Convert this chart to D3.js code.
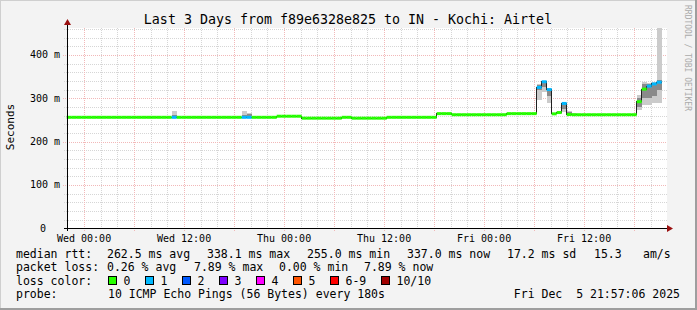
<!DOCTYPE html>
<html lang="en">
<head>
  <meta charset="UTF-8">
  <title>Smokeping</title>
  <style>
    body { margin: 0; background: #f3f3f3; }
    text { font-family: 'DejaVu Sans Mono', monospace; fill: #000; }
  </style>
</head>
<body>

  <svg id="svg" width="697" height="310"></svg>

  <script src="https://d3js.org/d3.v7.min.js"></script>
  <script>
    // time window (36 minute consolidation steps)
    const startTime = new Date(2025, 11, 2, 21, 57, 6)
    const endTime = new Date(2025, 11, 5, 21, 57, 6)
    const firstBin = new Date(2025, 11, 2, 21, 55, 0)
    const stepMinutes = 36

    // median rtt per step, in ms
    const medians = [
      256, 256, 256, 256, 256, 256, 256, 256, 256, 256,
      256, 256, 256, 256, 256, 256, 256, 256, 256, 256,
      256, 256, 256, 256, 256, 256, 256, 256, 256, 256,
      256, 256, 256, 256, 256, 256, 256, 256, 256, 256,
      256, 256, 258.5, 258.5, 258.5, 258.5, 258.5, 254, 254, 254,
      254, 254, 254, 254, 254, 256, 256, 254, 254, 254,
      254, 254, 254, 254, 256, 256, 256, 256, 256, 256,
      256, 256, 256, 256, 264.5, 264.5, 264.5, 262, 262, 262,
      262, 262, 262, 262, 262, 262, 262, 262, 264.5, 264.5,
      264.5, 264.5, 264.5, 264.5, 325, 338, 320, 264, 267, 288,
      262.5, 262, 262, 262, 262, 262, 262, 262, 262, 262,
      262, 262, 262, 262, 292, 321, 328, 333, 337
    ]

    // steps with lost pings: [step, pings lost of 10]
    const lossSteps = [[21, 1], [35, 1], [36, 1], [94, 1], [95, 1], [96, 1], [99, 1], [116, 1], [117, 1], [118, 1]]

    // smoke spread: [step, min, inner low, inner high, max] in ms
    const smoke = [
      [21, 255, 256, 262, 271],
      [35, 255, 256, 262, 271],
      [36, 255, 258, 264, 265],
      [94, 296, 318, 331, 333],
      [95, 315, 325, 338, 340],
      [96, 289, 305, 320, 322],
      [98, 264, 265, 268, 270],
      [99, 269, 275, 288, 290],
      [100, 262, 264, 268, 271],
      [101, 262, 262, 264, 265],
      [114, 273, 280, 300, 307],
      [115, 284, 300, 332, 338],
      [116, 284, 300, 332, 335],
      [117, 288, 305, 333, 338],
      [118, 289, 320, 342, 462]
    ]

    const lossLabels = ['0', '1', '2', '3', '4', '5', '6-9', '10/10']
    const lossColors = ['#26ff00', '#00b8ff', '#0059ff', '#7e00ff', '#ff00ff', '#ff5500', '#ff0000', '#a00000']

    const yTicks = [0, 100, 200, 300, 400]

    const svg = d3.select('#svg')

    const xScale = d3.scaleTime()
      .domain([startTime, endTime])
      .range([67, 667])

    const yScale = d3.scaleLinear()
      .domain([0, 462])
      .range([228.3, 28])

    const binStart = k => new Date(firstBin.getTime() + k * stepMinutes * 60000)

    // --------------- frame ---------------
    svg.append('rect').attr('width', 697).attr('height', 310).attr('fill', '#f3f3f3')
    svg.append('path').attr('d', 'M0,309 V0 H696').attr('stroke', '#cfcfcf').attr('stroke-width', 2).attr('fill', 'none')
    svg.append('path').attr('d', 'M696,0 V309 H0').attr('stroke', '#9e9e9e').attr('stroke-width', 2).attr('fill', 'none')

    svg.append('rect')
      .attr('x', 67).attr('y', 28)
      .attr('width', 600).attr('height', 200.3)
      .attr('fill', '#fff')

    // --------------- grid ---------------
    const minorX = d3.timeHour.every(2).range(startTime, endTime)
    const majorX = d3.timeHour.every(6).range(startTime, endTime)
    const labelX = d3.timeHour.every(12).range(startTime, endTime)

    const grid = svg.append('g').attr('shape-rendering', 'crispEdges')

    grid.selectAll('.minx')
      .data(minorX.filter(d => d.getHours() % 6 !== 0))
      .enter().append('line')
      .attr('x1', d => Math.round(xScale(d)) + 0.5).attr('x2', d => Math.round(xScale(d)) + 0.5)
      .attr('y1', 28).attr('y2', 230)
      .attr('stroke', '#d6d6d6').attr('stroke-dasharray', '1,1')

    const minorY = d3.range(20, 462, 20).filter(v => v % 100 !== 0)
    grid.selectAll('.miny')
      .data(minorY)
      .enter().append('line')
      .attr('x1', 64).attr('x2', 667)
      .attr('y1', d => Math.round(yScale(d)) + 0.5).attr('y2', d => Math.round(yScale(d)) + 0.5)
      .attr('stroke', '#d6d6d6').attr('stroke-dasharray', '1,1')

    grid.selectAll('.majx')
      .data(majorX)
      .enter().append('line')
      .attr('x1', d => Math.round(xScale(d)) + 0.5).attr('x2', d => Math.round(xScale(d)) + 0.5)
      .attr('y1', 28).attr('y2', 231)
      .attr('stroke', '#f2b8b8').attr('stroke-dasharray', '1,1')

    grid.selectAll('.majy')
      .data(yTicks.filter(v => v > 0))
      .enter().append('line')
      .attr('x1', 63).attr('x2', 667)
      .attr('y1', d => Math.round(yScale(d)) + 0.5).attr('y2', d => Math.round(yScale(d)) + 0.5)
      .attr('stroke', '#f2b8b8').attr('stroke-dasharray', '1,1')

    // --------------- smoke ---------------
    const smokeG = svg.append('g').attr('shape-rendering', 'crispEdges')
    smokeG.selectAll('.outer')
      .data(smoke)
      .enter().append('rect')
      .attr('x', d => xScale(binStart(d[0])))
      .attr('width', d => xScale(binStart(d[0] + 1)) - xScale(binStart(d[0])))
      .attr('y', d => yScale(d[4]))
      .attr('height', d => yScale(d[1]) - yScale(d[4]))
      .attr('fill', '#cbcbcb')

    smokeG.selectAll('.inner')
      .data(smoke)
      .enter().append('rect')
      .attr('x', d => xScale(binStart(d[0])))
      .attr('width', d => xScale(binStart(d[0] + 1)) - xScale(binStart(d[0])))
      .attr('y', d => yScale(d[3]))
      .attr('height', d => yScale(d[2]) - yScale(d[3]))
      .attr('fill', '#8a8a8a')

    // --------------- median ---------------
    const medPts = medians.map((v, k) => [xScale(binStart(k)), yScale(v)])
    medPts.push([xScale(binStart(medians.length)), yScale(medians[medians.length - 1])])

    svg.append('path')
      .attr('d', d3.line().curve(d3.curveStepAfter)(medPts))
      .attr('stroke', '#202020')
      .attr('stroke-width', 1)
      .attr('fill', 'none')
      .attr('shape-rendering', 'crispEdges')

    const lossOf = k => {
      const f = lossSteps.find(s => s[0] === k)
      return f ? f[1] : 0
    }
    const colorOf = n => n >= 10 ? lossColors[7] : n >= 6 ? lossColors[6] : lossColors[n]

    svg.append('g')
      .selectAll('line')
      .data(medians)
      .enter().append('line')
      .attr('x1', (d, k) => xScale(binStart(k)))
      .attr('x2', (d, k) => xScale(binStart(k + 1)))
      .attr('y1', d => yScale(d))
      .attr('y2', d => yScale(d))
      .attr('stroke', (d, k) => colorOf(lossOf(k)))
      .attr('stroke-width', 3)

    // --------------- axes ---------------
    const axes = svg.append('g').attr('shape-rendering', 'crispEdges')
    axes.append('line').attr('x1', 64).attr('x2', 668).attr('y1', 228.5).attr('y2', 228.5).attr('stroke', '#000')
    axes.append('line').attr('x1', 67.5).attr('x2', 67.5).attr('y1', 231).attr('y2', 24).attr('stroke', '#000')

    svg.append('path').attr('d', 'M667,225 L673,228.5 L667,232 Z').attr('fill', '#9a1010')
    svg.append('path').attr('d', 'M64,25 L67.5,19 L71,25 Z').attr('fill', '#9a1010')

    svg.selectAll('.xlab')
      .data(labelX)
      .enter().append('text')
      .attr('x', d => xScale(d))
      .attr('y', 242)
      .attr('text-anchor', 'middle')
      .style('font-size', '10px')
      .text(d3.timeFormat('%a %H:%M'))

    svg.selectAll('.ylab')
      .data(yTicks)
      .enter().append('text')
      .attr('x', d => d === 0 ? 46 : 60)
      .attr('y', d => yScale(d) + 3.5)
      .attr('text-anchor', 'end')
      .style('font-size', '10px')
      .text(d => d === 0 ? '0' : d + ' m')

    svg.append('text')
      .attr('transform', 'translate(14,127) rotate(-90)')
      .attr('text-anchor', 'middle')
      .style('font-size', '11px')
      .text('Seconds')

    svg.append('text')
      .attr('transform', 'translate(685,5) rotate(90)')
      .style('font-size', '8px')
      .style('fill', '#aaa')
      .text('RRDTOOL / TOBI OETIKER')

    svg.append('text')
      .attr('x', 348).attr('y', 24)
      .attr('text-anchor', 'middle')
      .style('font-size', '13.3px')
      .text('Last 3 Days from f89e6328e825 to IN - Kochi: Airtel')

    // --------------- legend ---------------
    const rows = [257.5, 271, 284.5, 298]
    const legendItems = [
      [16, 0, 'median rtt:'], [107, 0, '262.5 ms avg'], [207, 0, '338.1 ms max'], [307, 0, '255.0 ms min'],
      [407, 0, '337.0 ms now'], [507, 0, '17.2 ms sd'], [594, 0, '15.3'], [643, 0, 'am/s'],
      [16, 1, 'packet loss:'], [107, 1, '0.26 % avg'], [194, 1, '7.89 % max'], [279, 1, '0.00 % min'], [364, 1, '7.89 % now'],
      [16, 2, 'loss color:'],
      [16, 3, 'probe:'], [108, 3, '10 ICMP Echo Pings (56 Bytes) every 180s']
    ]

    svg.selectAll('.leg')
      .data(legendItems)
      .enter().append('text')
      .attr('x', d => d[0])
      .attr('y', d => rows[d[1]])
      .style('font-size', '11.5px')
      .style('white-space', 'pre')
      .text(d => d[2])

    svg.append('text')
      .attr('x', 680).attr('y', rows[3])
      .attr('text-anchor', 'end')
      .style('font-size', '11.5px')
      .style('white-space', 'pre')
      .text('Fri Dec  5 21:57:06 2025')

    const boxX = [108.5, 145.5, 182.5, 219.5, 256.5, 293.5, 330.5, 381.5]
    const swatch = svg.selectAll('.sw')
      .data(lossLabels)
      .enter().append('g')
      .attr('transform', (d, i) => `translate(${boxX[i]},276.5)`)

    swatch.append('rect')
      .attr('width', 8).attr('height', 8)
      .attr('fill', (d, i) => lossColors[i])
      .attr('stroke', '#000').attr('stroke-width', 1)
      .attr('shape-rendering', 'crispEdges')

    swatch.append('text')
      .attr('x', 15).attr('y', 8)
      .style('font-size', '11.5px')
      .text(d => d)

  </script>
</body>
</html>
